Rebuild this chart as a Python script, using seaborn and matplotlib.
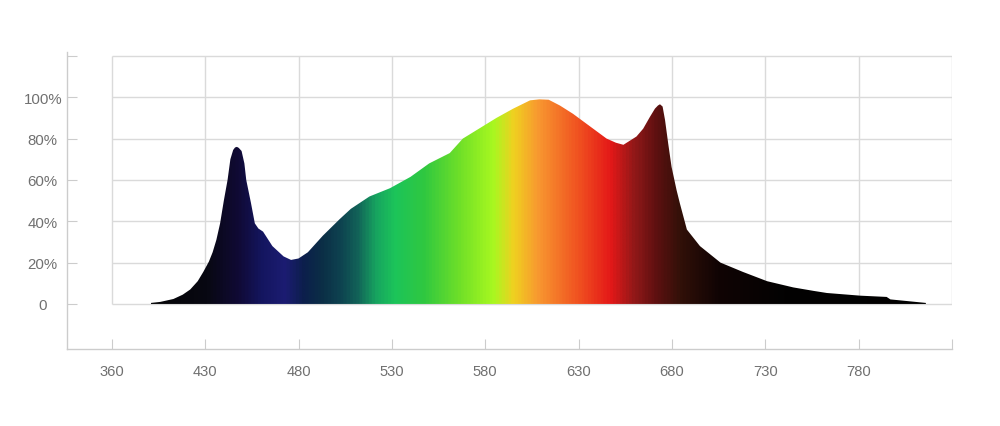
import numpy as np
import matplotlib
matplotlib.use("Agg")
import matplotlib.pyplot as plt
from matplotlib.colors import LinearSegmentedColormap
import seaborn as sns

# spectrum (nm, % of max)
wavelength = [401, 406, 413, 418, 422, 426, 429, 432, 434, 436, 438, 440, 442, 443.5,
              445, 446, 447, 448, 449.5, 451, 452, 454.5, 456.6, 458.5, 461, 466,
              472, 476, 480, 485, 493, 502, 508, 518, 529, 540, 550, 561, 568,
              577, 586, 595, 604, 609, 614, 620, 627, 636, 645, 650, 654, 657.5,
              661, 664.6, 668.2, 670.9, 672.5, 673.6, 675, 676.3, 678, 679.8, 682.5,
              684.3, 688, 695, 706, 718, 731, 745, 756, 763, 781, 795, 797, 816]
intensity = [0.5, 1.0, 2.4, 4.5, 7, 11, 15.5, 20.5, 25, 31, 39, 50, 60, 70,
             74.5, 75.7, 76, 75.5, 74, 68, 60, 49, 39, 36.5, 35, 28,
             23, 21.3, 22, 25, 33, 41, 46, 52, 56, 61.5, 68, 73, 80,
             85, 90, 94.5, 98.5, 99, 98.8, 96, 92, 86, 80, 78, 77, 79,
             81, 84.8, 90.5, 94.5, 96, 96.6, 95.5, 89, 77.6, 66.3, 55,
             48.5, 36, 28, 20, 15.5, 11, 8, 6.3, 5.3, 4, 3.4, 2.2, 0.5]

# axis ticks
x_ticks = [380, 430, 480, 530, 580, 630, 680, 730, 780, 830]
x_labels = ["360", "430", "480", "530", "580", "630", "680", "730", "780", ""]
y_ticks = [0, 20, 40, 60, 80, 100, 120]
y_labels = ["0", "20%", "40%", "60%", "80%", "100%", ""]

# colour stops along the wavelength axis
stop_nm = [395, 430, 447, 460, 472, 482, 492, 502, 511, 521, 531, 547, 566, 584,
           595, 608, 630, 647, 660, 672, 685, 705, 740, 830]
stop_col = ["#030303", "#080812", "#100a35", "#141660", "#1c1c72", "#0c1f4c",
            "#0b2e46", "#0e4350", "#126258", "#17a460", "#1cc45a", "#30c840",
            "#70e028", "#a8f820", "#f0d020", "#f89830", "#f05020", "#e41818",
            "#901818", "#5c1010", "#301008", "#100404", "#030202", "#000000"]

sns.set_theme(style="white")
plt.rcParams["font.family"] = ["Liberation Sans", "DejaVu Sans"]

fig = plt.figure(figsize=(10, 4.27), dpi=100)
ax = fig.add_axes([0.067, 0.1803, 0.885, 0.6956])
xmin, xmax = 356, 830
ymin, ymax = -21.8, 121.9

# grid only over the 380-830 / 0-120 box
grid_c = "#dadada"
ax.hlines(y_ticks, 380, 830, color=grid_c, lw=1, zorder=1)
ax.vlines(x_ticks, 0, 120, color=grid_c, lw=1, zorder=1)

# spectrum: gradient image clipped to the filled area
span = stop_nm[-1] - stop_nm[0]
cmap = LinearSegmentedColormap.from_list(
    "spec", [((n - stop_nm[0]) / span, c) for n, c in zip(stop_nm, stop_col)])
poly = ax.fill_between(wavelength, intensity, 0, color="none", lw=0, zorder=2)
grad = np.linspace(stop_nm[0], stop_nm[-1], 1200)[None, :]
img = ax.imshow(grad, cmap=cmap, aspect="auto", origin="lower",
                extent=[stop_nm[0], stop_nm[-1], 0, 100],
                vmin=stop_nm[0], vmax=stop_nm[-1], zorder=2, interpolation="bilinear")
img.set_clip_path(poly.get_paths()[0], transform=ax.transData)

ax.set_xlim(xmin, xmax)
ax.set_ylim(ymin, ymax)

label_c = "#707070"
ax.set_xticks(x_ticks)
ax.set_xticklabels(x_labels, fontsize=10.6, color=label_c)
ax.set_yticks(y_ticks)
ax.set_yticklabels(y_labels, fontsize=10.8, color=label_c, ha="center")
ax.tick_params(axis="x", direction="in", length=7.5, width=0.8, color="#cccccc", pad=11, bottom=True)
ax.tick_params(axis="y", direction="in", length=7.5, width=0.8, color="#cccccc", pad=17.5, left=True)

for side in ["top", "right"]:
    ax.spines[side].set_visible(False)
for side in ["left", "bottom"]:
    ax.spines[side].set_color("#cccccc")
    ax.spines[side].set_linewidth(1)
ax.grid(False)

fig.savefig("out.png", dpi=100)
